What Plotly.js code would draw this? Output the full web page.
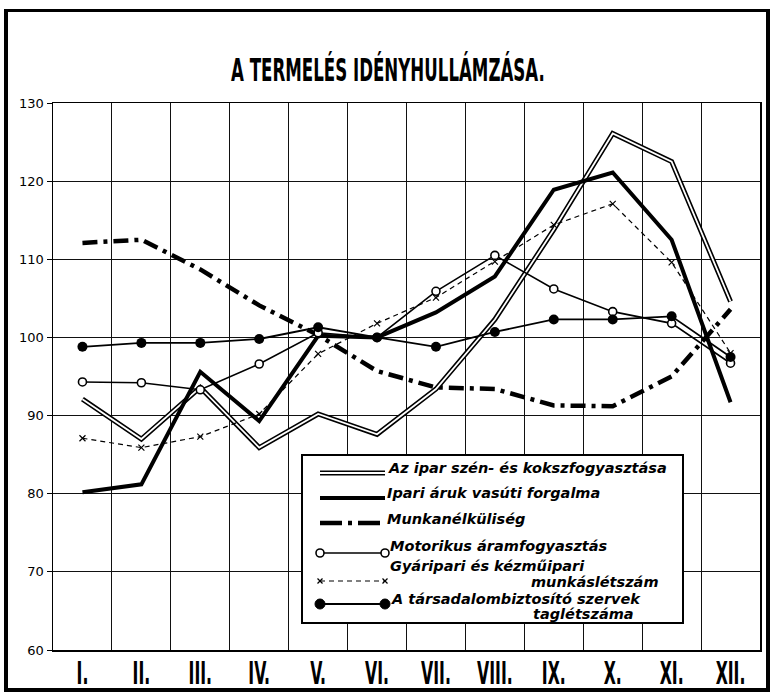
<!DOCTYPE html>
<html>
<head>
<meta charset="utf-8">
<script src="https://cdn.plot.ly/plotly-3.0.1.min.js"></script>
<style>
  html, body { margin: 0; padding: 0; background: #fff; }
  #wrap { position: relative; width: 773px; height: 694px; }
  #chart { width: 773px; height: 694px; }
  #frame { position: absolute; left: 4px; top: 9px; width: 758px; height: 676px;
           border-top: 3px solid #000; border-right: 4px solid #000;
           border-bottom: 4px solid #000; border-left: 4px solid #000; pointer-events: none; }
</style>
</head>
<body>
<div id="wrap">
  <div id="chart"></div>
  <div id="frame"></div>
</div>
<script>
// ---- data ----
const months = ["I.", "II.", "III.", "IV.", "V.", "VI.", "VII.", "VIII.", "IX.", "X.", "XI.", "XII."];
const yTicks = [60, 70, 80, 90, 100, 110, 120, 130];

const coal         = [92.1, 87.0, 93.6, 85.9, 90.2, 87.6, 93.4, 102.3, 113.8, 126.1, 122.5, 104.6];
const railFreight  = [80.2, 81.2, 95.6, 89.3, 100.2, 100.0, 103.2, 107.8, 118.9, 121.1, 112.5, 91.7];
const unemployment = [112.1, 112.5, 108.7, 104.1, 100.3, 95.7, 93.6, 93.4, 91.3, 91.2, 95.0, 103.6];
const motorPower   = [94.3, 94.2, 93.3, 96.6, 100.6, 100.0, 105.9, 110.5, 106.2, 103.3, 101.8, 96.7];
const workers      = [87.1, 85.9, 87.3, 90.2, 97.9, 101.8, 105.1, 109.7, 114.4, 117.1, 109.6, 98.0];
const insured      = [98.8, 99.3, 99.3, 99.8, 101.3, 100.0, 98.8, 100.7, 102.3, 102.3, 102.7, 97.5];

const names = {
  coal: "Az ipar szén- és kokszfogyasztása",
  rail: "Ipari áruk vasúti forgalma",
  unemp: "Munkanélküliség",
  motor: "Motorikus áramfogyasztás",
  workers1: "Gyáripari és kézműipari",
  workers2: "munkáslétszám",
  insured1: "A társadalombiztosító szervek",
  insured2: "taglétszáma"
};

// ---- layout helpers (pixel -> paper) ----
const L = 53, R = 760, T = 103, B = 650;
const px = x => (x - L) / (R - L);
const py = y => (B - y) / (B - T);

const narrow = "Liberation Sans Narrow, Arial Narrow, DejaVu Sans Condensed, sans-serif";

const traces = [
  { x: months, y: unemployment, mode: "lines", name: names.unemp,
    line: { color: "#000", width: 4.5, dash: "15px,6px,4px,6px" } },
  { x: months, y: coal, mode: "lines", name: names.coal,
    line: { color: "#000", width: 5 } },
  { x: months, y: coal, mode: "lines", name: names.coal, showlegend: false,
    line: { color: "#fff", width: 1.8 } },
  { x: months, y: workers, mode: "lines+markers", name: names.workers1,
    line: { color: "#000", width: 1.2, dash: "5px,4px" },
    marker: { symbol: "x-thin", size: 6, line: { color: "#000", width: 1.2 } } },
  { x: months, y: railFreight, mode: "lines", name: names.rail,
    line: { color: "#000", width: 4 } },
  { x: months, y: motorPower, mode: "lines+markers", name: names.motor,
    line: { color: "#000", width: 1.6 },
    marker: { symbol: "circle", size: 8, color: "#fff", line: { color: "#000", width: 1.6 } } },
  { x: months, y: insured, mode: "lines+markers", name: names.insured1,
    line: { color: "#000", width: 1.8 },
    marker: { symbol: "circle", size: 10, color: "#000" } }
];
traces.forEach(t => { t.hoverinfo = "skip"; });

// ---- hand-drawn legend box ----
const sx0 = px(320), sx1 = px(385);
const shapes = [
  { type: "rect", xref: "paper", yref: "paper", x0: px(302), x1: px(683), y0: py(623), y1: py(455),
    line: { color: "#000", width: 2 }, fillcolor: "#fff", layer: "above" },
  { type: "line", xref: "paper", yref: "paper", x0: sx0, x1: sx1, y0: py(473), y1: py(473),
    line: { color: "#000", width: 5 }, layer: "above" },
  { type: "line", xref: "paper", yref: "paper", x0: sx0, x1: sx1, y0: py(473), y1: py(473),
    line: { color: "#fff", width: 1.8 }, layer: "above" },
  { type: "line", xref: "paper", yref: "paper", x0: sx0, x1: sx1, y0: py(498), y1: py(498),
    line: { color: "#000", width: 4 }, layer: "above" },
  { type: "line", xref: "paper", yref: "paper", x0: sx0, x1: sx1, y0: py(523), y1: py(523),
    line: { color: "#000", width: 4.5, dash: "22px,6px,4px,6px" }, layer: "above" },
  { type: "line", xref: "paper", yref: "paper", x0: sx0, x1: sx1, y0: py(553), y1: py(553),
    line: { color: "#000", width: 1.6 }, layer: "above" },
  { type: "line", xref: "paper", yref: "paper", x0: sx0, x1: sx1, y0: py(581), y1: py(581),
    line: { color: "#000", width: 1.2, dash: "5px,4px" }, layer: "above" },
  { type: "line", xref: "paper", yref: "paper", x0: sx0, x1: sx1, y0: py(604), y1: py(604),
    line: { color: "#000", width: 1.8 }, layer: "above" }
];
function dot(xp, yp, r, fill, lw) {
  return { type: "circle", xref: "paper", yref: "paper", xsizemode: "pixel", ysizemode: "pixel",
    xanchor: xp, yanchor: yp, x0: -r, x1: r, y0: -r, y1: r,
    fillcolor: fill, line: { color: "#000", width: lw }, layer: "above" };
}
function cross(xp, yp, r) {
  return [
    { type: "line", xref: "paper", yref: "paper", xsizemode: "pixel", ysizemode: "pixel",
      xanchor: xp, yanchor: yp, x0: -r, x1: r, y0: -r, y1: r, line: { color: "#000", width: 1.2 }, layer: "above" },
    { type: "line", xref: "paper", yref: "paper", xsizemode: "pixel", ysizemode: "pixel",
      xanchor: xp, yanchor: yp, x0: -r, x1: r, y0: r, y1: -r, line: { color: "#000", width: 1.2 }, layer: "above" }
  ];
}
shapes.push(dot(sx0, py(553), 4, "#fff", 1.6), dot(sx1, py(553), 4, "#fff", 1.6));
shapes.push(...cross(sx0, py(581), 2.5), ...cross(sx1, py(581), 2.5));
shapes.push(dot(sx0, py(604), 5, "#000", 1), dot(sx1, py(604), 5, "#000", 1));

const legFont = { family: "DejaVu Sans, sans-serif", size: 14.5, color: "#000" };
function txt(text, x, y, anchor) {
  return { text: "<b><i>" + text + "</i></b>", xref: "paper", yref: "paper", x: x, y: y,
    xanchor: anchor || "left", yanchor: "middle", showarrow: false, font: legFont };
}
const annotations = [
  txt(names.coal, px(386), py(468)),
  txt(names.rail, px(385), py(493)),
  txt(names.unemp, px(385), py(519)),
  txt(names.motor, px(388), py(546)),
  txt(names.workers1, px(388), py(566)),
  txt(names.workers2, px(661), py(582), "right"),
  txt(names.insured1, px(389), py(599)),
  txt(names.insured2, px(636), py(614), "right")
];

const layout = {
  width: 773, height: 694,
  margin: { l: L, r: 773 - R, t: T, b: 694 - B },
  paper_bgcolor: "#fff", plot_bgcolor: "#fff",
  showlegend: false,
  title: { text: "<b>A TERMELÉS IDÉNYHULLÁMZÁSA.</b>", x: 388 / 773, xanchor: "center",
    xref: "container", yref: "container", y: 1 - 70 / 694, yanchor: "middle",
    font: { family: narrow, size: 18.5, color: "#000" } },
  xaxis: {
    type: "category", categoryorder: "array", categoryarray: months,
    range: [-0.5, months.length - 0.5], autorange: false,
    tickson: "boundaries", ticks: "", showgrid: true, gridcolor: "#111", gridwidth: 1,
    showline: true, mirror: true, linecolor: "#000", linewidth: 1.5,
    tickfont: { family: narrow, size: 17.5, color: "#000", weight: "bold" },
    ticklabelstandoff: 7, fixedrange: true
  },
  yaxis: {
    range: [60, 130], autorange: false, tickvals: yTicks, ticktext: yTicks.map(String),
    showgrid: true, gridcolor: "#111", gridwidth: 1, zeroline: false,
    showline: true, mirror: true, linecolor: "#000", linewidth: 1.5,
    ticks: "outside", ticklen: 5, tickcolor: "#000",
    tickfont: { family: "DejaVu Sans, sans-serif", size: 13, color: "#000" },
    fixedrange: true
  },
  shapes: shapes,
  annotations: annotations
};

Plotly.newPlot("chart", traces, layout, { staticPlot: true, displayModeBar: false }).then(gd => {
  // stretch the condensed title and month labels vertically, like the printed original
  function stretch(el, k) {
    const bb = el.getBBox();
    const cy = bb.y + bb.height / 2;
    const prev = el.getAttribute("transform") || "";
    el.setAttribute("transform", prev + " translate(0," + cy + ") scale(1," + k + ") translate(0," + (-cy) + ")");
  }
  gd.querySelectorAll(".gtitle").forEach(el => stretch(el, 1.7));
  gd.querySelectorAll(".xtick text").forEach(el => stretch(el, 1.8));
});
</script>
</body>
</html>
